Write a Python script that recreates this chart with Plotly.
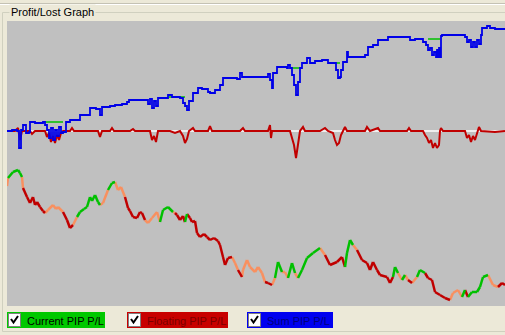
import plotly.graph_objects as go

# ---------------- data (trade index, pips) ----------------
sum_x = [0, 5, 10, 12, 14, 16, 19, 22, 23, 28, 33, 36, 38, 40, 42, 44, 46, 48, 50, 52, 54, 56,
         59, 63, 71, 73, 80, 83, 89, 92, 93, 95, 103, 108, 115, 120, 122, 138, 141, 143, 145, 147,
         149, 151, 153, 161, 165, 173, 176, 178, 180, 182, 186, 191, 195, 201, 203, 208, 213, 216,
         230, 233, 235, 258, 261, 263, 265, 266, 270, 280, 281, 283, 285, 287, 289, 291, 293, 295,
         300, 303, 308, 315, 321, 326, 329, 331, 333, 334, 336, 340, 341, 356, 358, 361, 366, 371,
         381, 400, 403, 408, 416, 419, 421, 423, 425, 427, 429, 430, 431, 432, 433, 434, 435, 440,
         458, 460, 462, 464, 466, 468, 470, 472, 474, 475, 480, 483, 488, 498]
sum_y = [0, 10, 0, -170, 10, 60, -20, -10, 90, 80, 80, 90, 60, 10, -70, 30, -90, 10, -50, 40, -20, -10,
         90, 110, 110, 160, 160, 230, 220, 220, 160, 240, 250, 260, 270, 290, 310, 310, 270, 320, 230, 300,
         250, 330, 330, 360, 340, 330, 280, 250, 210, 300, 380, 430, 420, 390, 380, 410, 460, 530,
         520, 580, 540, 540, 570, 510, 430, 580, 640, 630, 660, 630, 560, 460, 360, 490, 630, 680,
         730, 680, 700, 710, 680, 680, 610, 530, 540, 610, 690, 790, 740, 740, 760, 840, 860, 910,
         940, 940, 910, 920, 890, 860, 810, 830, 760, 790, 740, 810, 740, 830, 740, 950, 960, 960,
         940, 890, 910, 840, 890, 840, 910, 870, 960, 1030, 1050, 1030, 1020, 1010]

float_x = [0, 8, 11, 13, 15, 23, 25, 28, 38, 40, 42, 44, 46, 48, 50, 52, 54, 56, 63, 65, 67, 91, 93, 95,
           103, 105, 107, 123, 126, 128, 143, 145, 147, 149, 151, 163, 168, 173, 176, 178, 180, 182,
           186, 188, 201, 203, 205, 233, 236, 238, 261, 263, 264, 265, 283, 285, 287, 289, 291, 293,
           296, 298, 313, 318, 321, 326, 328, 330, 332, 334, 336, 338, 340, 358, 360, 363, 371, 373,
           400, 402, 404, 416, 418, 420, 422, 424, 426, 428, 430, 432, 433, 434, 436, 458, 460, 462,
           464, 466, 468, 470, 472, 474, 488, 498]
float_y = [0, 0, 30, -90, 0, 0, -30, 0, 0, -60, -20, -110, -50, -120, -40, -90, -20, 0, 0, 30, 0, 0, -60, 0,
           0, 30, 0, 0, 20, 0, 0, -90, -50, -110, 0, 0, -20, 0, -50, -120, -80, 0,
           30, 0, 0, 50, 0, 0, 30, 0, 0, 60, -70, 0, 0, -70, -140, -270, -140, 0,
           40, 0, 0, 30, 0, -20, -90, -140, -120, -40, 0, 40, 0, 0, 40, 0, 30, 0,
           0, 30, 0, 0, -40, -70, -120, -90, -170, -120, -170, -140, 0, 30, 0, 0, -70, -40,
           -110, -50, -90, -20, 40, 0, -10, 0]

cur_x = [0, 1, 6, 11, 13, 15, 16, 20, 23, 26, 28, 30, 33, 36, 38, 41, 46, 49, 51, 56, 60, 63, 66, 70,
         73, 77, 80, 83, 85, 88, 91, 93, 96, 101, 105, 108, 111, 114, 118, 121, 123, 126, 130, 133,
         135, 138, 141, 145, 150, 153, 156, 161, 166, 168, 170, 173, 176, 178, 180, 183, 185, 188,
         190, 193, 197, 200, 203, 207, 211, 213, 216, 218, 221, 225, 228, 231, 235, 236, 240, 243,
         248, 251, 255, 258, 261, 265, 268, 271, 275, 278, 281, 285, 288, 291, 295, 300, 306, 313,
         318, 323, 330, 335, 338, 340, 343, 346, 350, 355, 360, 363, 366, 370, 373, 380, 383, 386,
         388, 391, 395, 398, 401, 405, 410, 413, 418, 421, 425, 428, 433, 438, 443, 446, 451, 455,
         458, 461, 465, 470, 473, 476, 481, 486, 491, 495, 498]
cur_y = [-550, -470, -410, -390, -420, -460, -570, -660, -720, -660, -740, -710, -760, -800, -820, -790,
         -740, -780, -760, -810, -890, -970, -940, -860, -810, -780, -760, -660, -700, -640, -710, -740,
         -720, -590, -520, -510, -590, -560, -660, -770, -800, -860, -870, -810, -820, -890, -920, -870,
         -810, -910, -790, -760, -810, -820, -840, -890, -850, -910, -830, -870, -910, -900, -1020,
         -1060, -1030, -1060, -1090, -1070, -1100, -1140, -1260, -1340, -1270, -1260, -1320, -1390,
         -1460, -1390, -1290, -1360, -1410, -1360, -1420, -1510, -1520, -1540, -1470, -1310, -1410,
         -1410, -1470, -1320, -1420, -1470, -1390, -1270, -1220, -1170, -1240, -1340, -1310, -1260,
         -1360, -1220, -1090, -1140, -1190, -1290, -1320, -1390, -1310, -1390, -1440, -1460, -1520,
         -1460, -1360, -1420, -1490, -1440, -1490, -1520, -1460, -1390, -1420, -1470, -1490, -1610,
         -1640, -1670, -1690, -1620, -1590, -1660, -1590, -1660, -1610, -1610, -1560, -1460, -1440,
         -1540, -1560, -1520, -1540]
# state of the segment starting at each point: G = gain, O = neutral, R = loss
cur_state = list("OGGGGORRRRRRRROOOOORRROG"
                 "GGGGGGGOOGGOOORRRRRR"
                 "ROOOOGGGORRRRGRRRR"
                 "RRRRRRRRRRROOROOOO"
                 "OOORROGGOOGGOGGGGO"
                 "RRRRGGGORRRRRRRRRG"
                 "GOGOROGGRRRRRROOOG"
                 "RGGGGGOORRR")

peak_start = [38, 161, 283, 323, 421]
peak_end = [56, 178, 293, 333, 433]
peak_level = [90, 340, 630, 680, 920]

legend_labels = ["Current PIP P/L", "Floating PIP P/L", "Sum PIP P/L"]
title_text = "Profit/Lost Graph"

# ---------------- layout geometry ----------------
W, H = 505, 335
L, T, B, R = 7, 21, 29, 0
PW, PH = W - L - R, H - T - B


def fx(p):
    return (p - L) / PW


def fy(p):
    return (H - B - p) / PH


fig = go.Figure()

# zero reference line (white)
fig.add_trace(go.Scatter(x=[sum_x[0], sum_x[-1]], y=[0, 0], mode="lines",
                         line=dict(color="#FFFFFF", width=1.5), hoverinfo="skip"))
# floating
fig.add_trace(go.Scatter(x=float_x, y=float_y, mode="lines",
                         line=dict(color="#C00000", width=2), hoverinfo="skip"))
# high-water marks of sum
px_, py_ = [], []
for a, b, v in zip(peak_start, peak_end, peak_level):
    px_ += [a, b, None]
    py_ += [v, v, None]
fig.add_trace(go.Scatter(x=px_, y=py_, mode="lines",
                         line=dict(color="#00C000", width=1.5), hoverinfo="skip"))
# sum (stepped equity curve)
fig.add_trace(go.Scatter(x=sum_x, y=sum_y, mode="lines", line_shape="hv",
                         line=dict(color="#0000E8", width=1.8), hoverinfo="skip"))

# current P/L coloured by state
state_colors = {"O": "#F89060", "R": "#C00000", "G": "#00C000"}
n = min(len(cur_x), len(cur_y))
nseg = n - 1
states = (cur_state + [cur_state[-1]] * nseg)[:nseg]
for key, col in state_colors.items():
    xs, ys = [], []
    for i in range(nseg):
        if states[i] == key:
            xs += [cur_x[i], cur_x[i + 1], None]
            ys += [cur_y[i], cur_y[i + 1], None]
    fig.add_trace(go.Scatter(x=xs, y=ys, mode="lines", line=dict(color=col, width=2.5),
                             hoverinfo="skip"))

shapes = []
frame = "#D0D0BF"
# top separator
shapes.append(dict(type="line", xref="paper", yref="paper", x0=fx(0), x1=fx(W), y0=fy(3.5), y1=fy(3.5),
                   line=dict(color="#C4C2B4", width=1)))
shapes.append(dict(type="line", xref="paper", yref="paper", x0=fx(0), x1=fx(W), y0=fy(4.5), y1=fy(4.5),
                   line=dict(color="#FFFFFF", width=1)))
# group box frame
shapes.append(dict(type="line", xref="paper", yref="paper", x0=fx(2.5), x1=fx(W), y0=fy(12.5), y1=fy(12.5),
                   line=dict(color=frame, width=1)))
shapes.append(dict(type="line", xref="paper", yref="paper", x0=fx(2.5), x1=fx(2.5), y0=fy(12.5), y1=fy(331.5),
                   line=dict(color=frame, width=1)))
shapes.append(dict(type="line", xref="paper", yref="paper", x0=fx(2.5), x1=fx(W), y0=fy(331.5), y1=fy(331.5),
                   line=dict(color=frame, width=1)))

# legend
leg_boxes = [(7, 105, "#00C800", "#000000"), (127, 228, "#C80000", "#7A0000"), (247, 333, "#0000F0", "#00007A")]
annotations = []
for (x0, x1, fill, tcol), lab in zip(leg_boxes, legend_labels):
    shapes.append(dict(type="rect", xref="paper", yref="paper", x0=fx(x0), x1=fx(x1), y0=fy(328), y1=fy(312),
                       fillcolor=fill, line=dict(width=0), layer="above"))
    shapes.append(dict(type="rect", xref="paper", yref="paper", x0=fx(x0 + 1.5), x1=fx(x0 + 13.5),
                       y0=fy(326.5), y1=fy(313.5), fillcolor="#FFFFFF",
                       line=dict(color="#808080", width=1), layer="above"))
    path = "M %f,%f L %f,%f L %f,%f" % (fx(x0 + 4), fy(319), fx(x0 + 6.5), fy(322.5), fx(x0 + 11), fy(316))
    shapes.append(dict(type="path", xref="paper", yref="paper", path=path,
                       line=dict(color="#000000", width=2), layer="above"))
    annotations.append(dict(xref="paper", yref="paper", x=fx(x0 + 18), y=fy(320.5), xanchor="left",
                            yanchor="middle", showarrow=False, text=lab,
                            font=dict(family="Liberation Sans, Arial", size=11, color=tcol)))

annotations.append(dict(xref="paper", yref="paper", x=fx(9), y=fy(12), xanchor="left", yanchor="middle",
                        showarrow=False, text=title_text, bgcolor="#ECE9D8", borderpad=1,
                        font=dict(family="Liberation Sans, Arial", size=11, color="#000000")))

fig.update_layout(
    width=W, height=H,
    margin=dict(l=L, r=R, t=T, b=B, pad=0),
    paper_bgcolor="#ECE9D8", plot_bgcolor="#C0C0C0",
    showlegend=False,
    xaxis=dict(range=[0, 498], visible=False, showgrid=False, zeroline=False, fixedrange=True),
    yaxis=dict(range=[-1750, 1100], visible=False, showgrid=False, zeroline=False, fixedrange=True),
    shapes=shapes, annotations=annotations,
)

fig.write_html("out.html", config={"displayModeBar": False})
